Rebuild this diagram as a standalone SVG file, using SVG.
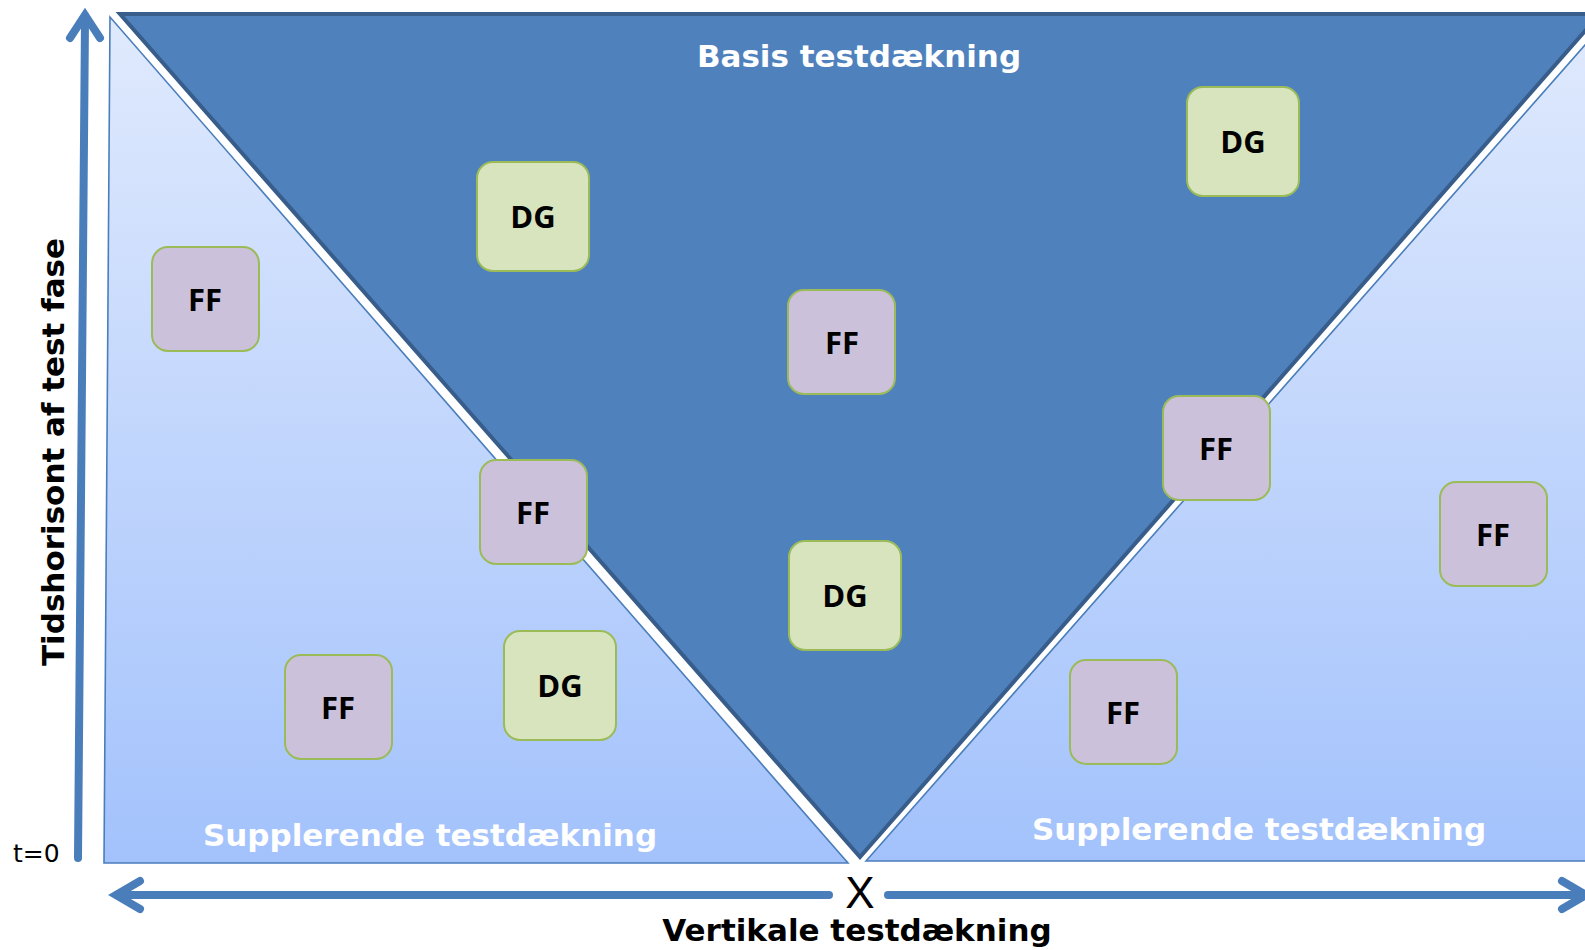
<svg xmlns="http://www.w3.org/2000/svg" width="1585" height="950" viewBox="0 0 1585 950">
<defs>
<linearGradient id="lg" gradientUnits="userSpaceOnUse" x1="0" y1="17" x2="0" y2="863">
<stop offset="0" stop-color="#e0eafd"/>
<stop offset="1" stop-color="#a3c2fc"/>
</linearGradient>
<style>
.light{fill:url(#lg);stroke:#4a7ebb;stroke-width:1.6}
.dark{fill:#4f81bd;stroke:#385d8a;stroke-width:4;stroke-linejoin:miter}
.ax{fill:none;stroke:#4a7ebb;stroke-width:8;stroke-linecap:round;stroke-linejoin:miter}
.ff{fill:#ccc1da;stroke:#9bbb59;stroke-width:2}
.dg{fill:#d7e4bd;stroke:#9bbb59;stroke-width:2}
.bt{font-family:"Open Sans","Noto Sans",sans-serif;font-weight:700;font-size:31px;fill:#000;text-anchor:middle}
.lbl{font-family:"DejaVu Sans",Verdana,sans-serif;font-weight:700;font-size:31px;text-anchor:middle}
</style>
</defs>
<rect width="1585" height="950" fill="#fff"/>
<g id="left-area">
<polygon class="light" points="110,17 104,863 848,863"/>
</g>
<g id="right-area">
<polygon class="light" points="866,861 1600,28 1600,861"/>
</g>
<g id="basis-area">
<polygon class="dark" points="120,14 1600,14 860,857"/>
</g>
<g id="labels">
<text class="lbl" x="859" y="67" fill="#fff">Basis testdækning</text>
<text class="lbl" x="430" y="846" fill="#fff">Supplerende testdækning</text>
<text class="lbl" x="1259" y="840" fill="#fff">Supplerende testdækning</text>
<text class="lbl" x="857" y="941" fill="#000">Vertikale testdækning</text>
<text class="lbl" transform="translate(64,452) rotate(-90)" fill="#000">Tidshorisont af test fase</text>
<text x="13" y="862" font-family="DejaVu Sans,Verdana,sans-serif" font-size="25" fill="#000">t=0</text>
<text x="860" y="908" font-family="Liberation Sans,Arial,sans-serif" font-size="44" fill="#000" text-anchor="middle">X</text>
</g>
<g id="connectors">
<line class="ax" x1="78" y1="858" x2="85" y2="20"/>
<polyline class="ax" points="70,38 85,15 100,38"/>
<line class="ax" x1="118" y1="895" x2="829" y2="895"/>
<polyline class="ax" points="140,881 116,895 140,909"/>
<line class="ax" x1="888" y1="895" x2="1580" y2="895"/>
<polyline class="ax" points="1562,881 1586,895 1562,909"/>
</g>
<g id="n1"><rect class="dg" x="477" y="162" width="112" height="109" rx="16"/><text class="bt" x="533" y="228">DG</text></g>
<g id="n2"><rect class="ff" x="152" y="247" width="107" height="104" rx="16"/><text class="bt" x="205" y="311">FF</text></g>
<g id="n3"><rect class="ff" x="788" y="290" width="107" height="104" rx="16"/><text class="bt" x="842" y="354">FF</text></g>
<g id="n4"><rect class="dg" x="1187" y="87" width="112" height="109" rx="16"/><text class="bt" x="1243" y="153">DG</text></g>
<g id="n5"><rect class="ff" x="480" y="460" width="107" height="104" rx="16"/><text class="bt" x="533" y="524">FF</text></g>
<g id="n6"><rect class="ff" x="1163" y="396" width="107" height="104" rx="16"/><text class="bt" x="1216" y="460">FF</text></g>
<g id="n7"><rect class="dg" x="789" y="541" width="112" height="109" rx="16"/><text class="bt" x="845" y="607">DG</text></g>
<g id="n8"><rect class="ff" x="285" y="655" width="107" height="104" rx="16"/><text class="bt" x="338" y="719">FF</text></g>
<g id="n9"><rect class="dg" x="504" y="631" width="112" height="109" rx="16"/><text class="bt" x="560" y="697">DG</text></g>
<g id="n10"><rect class="ff" x="1440" y="482" width="107" height="104" rx="16"/><text class="bt" x="1493" y="546">FF</text></g>
<g id="n11"><rect class="ff" x="1070" y="660" width="107" height="104" rx="16"/><text class="bt" x="1123" y="724">FF</text></g>
</svg>
